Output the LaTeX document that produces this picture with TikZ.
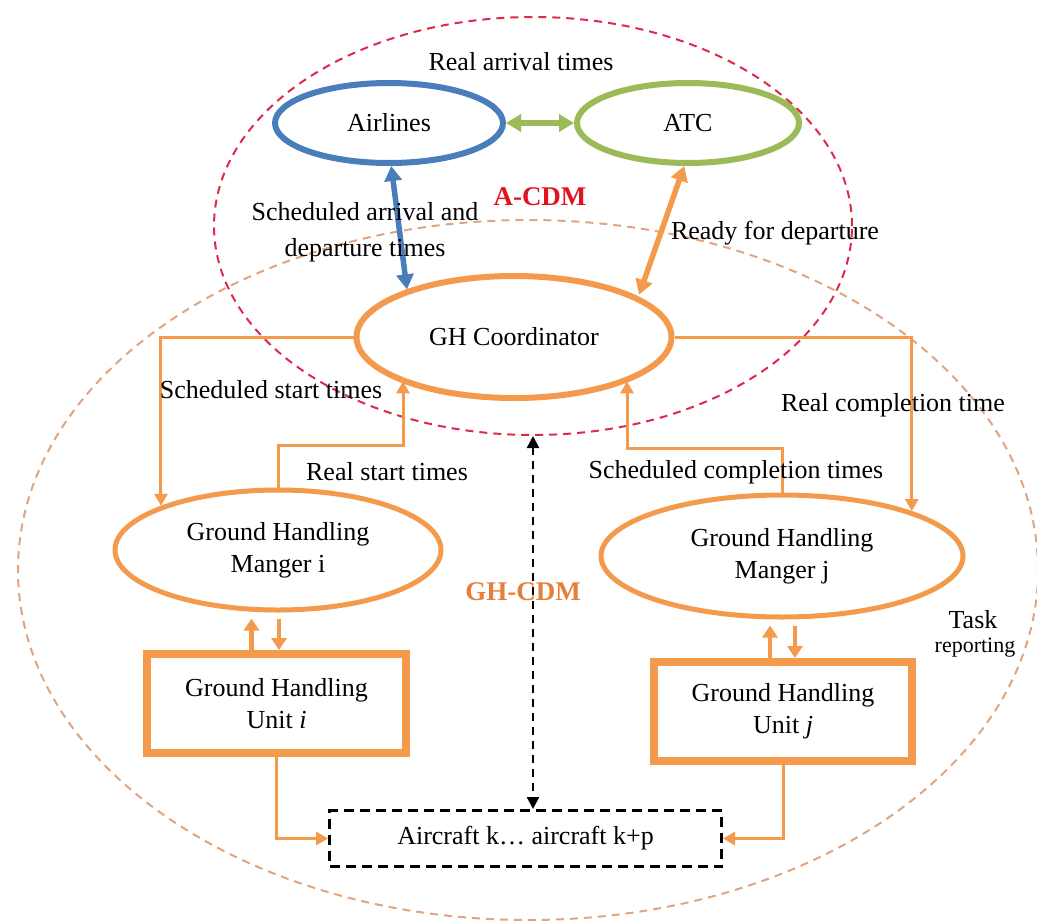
\documentclass[tikz,border=0pt]{standalone}
\usepackage{fontspec}
\setmainfont{Liberation Serif}
\usetikzlibrary{shapes.geometric,arrows.meta,calc}
\definecolor{cblue}{HTML}{4A7EBB}
\definecolor{cgreen}{HTML}{9BBB59}
\definecolor{corange}{HTML}{F39A4C}
\definecolor{credzone}{HTML}{DD2A4B}
\definecolor{corzone}{HTML}{E2A47E}
\definecolor{acdmtext}{HTML}{E0141E}
\definecolor{ghtext}{HTML}{E4803A}
\begin{document}
\begin{tikzpicture}[x=1pt,y=-1pt,
  every node/.style={font=\fontsize{26}{32}\selectfont, inner sep=0pt},
  zone/.style={ellipse, draw, line width=2pt, dash pattern=on 8pt off 6pt},
  oval/.style={ellipse, draw, inner sep=0pt, align=center},
  unitbox/.style={rectangle, draw=corange, line width=8pt, align=center},
  bigtwo/.style={line width=5.5pt, {Triangle[length=15pt,width=17pt]}-{Triangle[length=15pt,width=17pt]}},
  link/.style={draw=corange, line width=3pt, -{Triangle[length=12pt,width=13pt]}},
  small/.style={draw=corange, line width=4.5pt, -{Triangle[length=12pt,width=15pt]}},
  lbl/.style={align=center}
]
\useasboundingbox (0,0) rectangle (1037,922);

% collaboration zones
\node[zone, draw=corzone, minimum width=1020pt, minimum height=700pt] (ghzone) at (528,570) {};
\node[zone, draw=credzone, minimum width=638pt, minimum height=418pt] (azone) at (533,226) {};

% A-CDM actors
\node[oval, draw=cblue, line width=6pt, minimum width=228pt, minimum height=80pt] (airl) at (389,123) {Airlines};
\node[oval, draw=cgreen, line width=6pt, minimum width=222pt, minimum height=80pt] (atc) at (688,123) {ATC};
\node[oval, draw=corange, line width=6pt, minimum width=315pt, minimum height=122pt] (gh) at (514,337) {GH Coordinator};

% ground handling managers and units
\node[oval, draw=corange, line width=5pt, minimum width=326pt, minimum height=120pt] (mgri) at (278,550) {Ground Handling\\Manger i};
\node[oval, draw=corange, line width=5pt, minimum width=362pt, minimum height=122pt] (mgrj) at (782,556) {Ground Handling\\Manger j};
\node[unitbox, minimum width=259pt, minimum height=99pt] (boxi) at (276.5,703.5) {Ground Handling\\Unit \textit{i}};
\node[unitbox, minimum width=258pt, minimum height=99pt] (boxj) at (783,711.5) {Ground Handling\\Unit \textit{j}};
\node[rectangle, draw=black, line width=3pt, dash pattern=on 10pt off 6pt, minimum width=392pt, minimum height=56pt] (air) at (525.5,838.5) {Aircraft k\ldots{} aircraft k+p};

% information exchange between the A-CDM partners
\draw[bigtwo, cgreen] (airl.east) -- (atc.west);
\draw[bigtwo, cblue] (airl.-87) -- (gh.156);
\draw[bigtwo, corange, shorten >=2pt] (atc.-95) -- (gh.18);

% coordinator <-> managers
\coordinate (rs) at (403,445);
\coordinate (sc) at (627,448);
\draw[link] (gh.west) -| (mgri.north west);
\draw[link] (gh.east) -| (mgrj.north east);
\draw[link] (mgri.north) |- (rs) -- (rs |- gh.-159);
\draw[link] (mgrj.north) |- (sc) -- (sc |- gh.-21);

% managers <-> units
\draw[small, shorten >=6pt] ([xshift=-25pt]boxi.north) -- ([xshift=-25pt]boxi.north |- mgri.south);
\draw[small, shorten <=6pt] ([xshift=1pt]mgri.south) -- ([xshift=1pt]mgri.south |- boxi.north);
\draw[small, shorten >=6pt] ([xshift=-13pt]boxj.north) -- ([xshift=-13pt]boxj.north |- mgrj.south);
\draw[small, shorten <=6pt] ([xshift=13pt]mgrj.south) -- ([xshift=13pt]mgrj.south |- boxj.north);

% units -> aircraft
\draw[link] (boxi.south) |- (air.west);
\draw[link] (boxj.south) |- (air.east);

% A-CDM <-> aircraft
\draw[line width=2.5pt, dash pattern=on 8pt off 6pt, {Triangle[length=12pt,width=12pt]}-{Triangle[length=12pt,width=12pt]}]
  (azone.south) -- (azone.south |- air.north);

% labels
\node[lbl] (t1) at (521,62) {Real arrival times};
\node[lbl, text=acdmtext, font=\fontsize{27}{32}\selectfont\bfseries] (t2) at (540,197) {A-CDM};
\node[lbl, font=\fontsize{26}{36}\selectfont] (t3) at (365,232) {Scheduled arrival and\\departure times};
\node[lbl] (t4) at (775,233) {Ready for departure};
\node[lbl] (t5) at (271,390) {Scheduled start times};
\node[lbl] (t6) at (387,472) {Real start times};
\node[lbl] (t7) at (736,472) {Scheduled completion times};
\node[lbl] (t8) at (893,405) {Real completion time};
\node[lbl, text=ghtext, font=\fontsize{27}{32}\selectfont\bfseries] (t9) at (523,592) {GH-CDM};
\node[lbl] (t10) at (973,620) {Task};
\node[lbl, font=\fontsize{22}{26}\selectfont] (t11) at (975,648) {reporting};
\end{tikzpicture}
\end{document}
